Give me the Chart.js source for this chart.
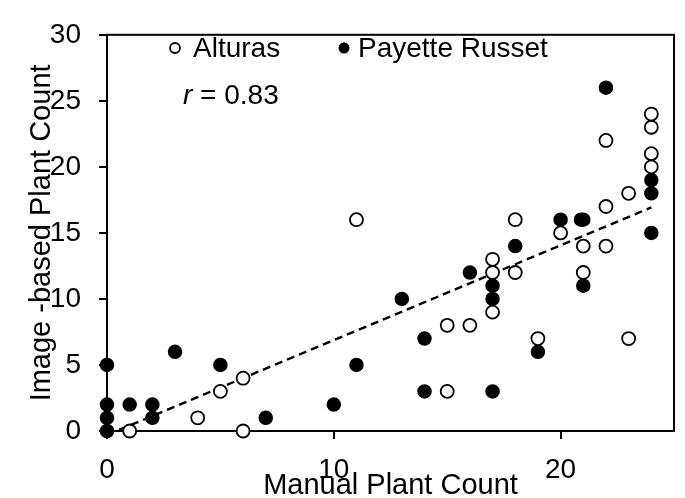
<!DOCTYPE html>
<html>
<head>
<meta charset="utf-8">
<script src="https://cdn.jsdelivr.net/npm/chart.js@4.4.0/dist/chart.umd.min.js"></script>
<style>
    html, body { margin: 0; padding: 0; background: #fff; }
</style>
</head>
<body>
<canvas id="plantChart" width="685" height="498"></canvas>
<script>
// values
const alturasX = [1, 4, 5, 6, 6, 11, 15, 16, 15, 17, 17, 17, 18, 18, 19, 20, 21, 21, 22, 22, 22, 23, 23, 24, 24, 24, 24];
const alturasY = [0, 1, 3, 4, 0, 16, 8, 8, 3, 13, 12, 9, 16, 12, 7, 15, 14, 12, 22, 17, 14, 18, 7, 24, 23, 21, 20];

const payetteX = [0, 0, 0, 0, 1, 2, 2, 3, 5, 7, 10, 11, 13, 14, 14, 16, 17, 17, 17, 18, 19, 20, 21, 20.9, 21, 22, 24, 24, 24];
const payetteY = [0, 1, 2, 5, 2, 2, 1, 6, 5, 1, 2, 5, 10, 7, 3, 12, 11, 10, 3, 14, 6, 16, 16, 16, 11, 26, 19, 18, 15];

const trendX = [0, 24];
const trendY = [-0.3, 16.93];

const xTicks = [0, 10, 20];
const legendNames = ['Alturas', 'Payette Russet'];
const rText = '0.83';

const FONT = "'Liberation Sans', Arial, sans-serif";

function toPoints(xs, ys) {
    return xs.map((x, i) => ({ x: x, y: ys[i] }));
}

// frame, axis titles and the in-plot legend
const decorations = {
    id: 'decorations',
    beforeDatasetsDraw(chart) {
        const ctx = chart.ctx;
        const a = chart.chartArea;
        ctx.save();
        ctx.strokeStyle = '#000';
        ctx.lineWidth = 2;
        ctx.strokeRect(a.left, a.top, a.right - a.left, a.bottom - a.top);
        ctx.restore();
    },
    afterDraw(chart) {
        const ctx = chart.ctx;
        const a = chart.chartArea;
        ctx.save();

        ctx.fillStyle = '#000';
        ctx.strokeStyle = '#000';
        ctx.font = '29px ' + FONT;
        ctx.textAlign = 'center';
        ctx.textBaseline = 'alphabetic';
        ctx.fillText('Manual Plant Count', (a.left + a.right) / 2, 494);

        ctx.save();
        ctx.translate(50, (a.top + a.bottom) / 2);
        ctx.rotate(-Math.PI / 2);
        ctx.fillText('Image -based Plant Count', 0, 0);
        ctx.restore();

        // legend
        ctx.font = '28px ' + FONT;
        ctx.textAlign = 'left';
        ctx.lineWidth = 1.8;
        ctx.beginPath();
        ctx.arc(175, 48, 5, 0, Math.PI * 2);
        ctx.fillStyle = '#fff';
        ctx.fill();
        ctx.stroke();
        ctx.fillStyle = '#000';
        ctx.fillText(legendNames[0], 193, 57);

        ctx.beginPath();
        ctx.arc(344, 48, 5.5, 0, Math.PI * 2);
        ctx.fill();
        ctx.fillText(legendNames[1], 358, 57);

        ctx.font = 'italic 28px ' + FONT;
        ctx.fillText('r', 183, 104);
        const rw = ctx.measureText('r').width;
        ctx.font = '28px ' + FONT;
        ctx.fillText(' = ' + rText, 183 + rw, 104);

        ctx.restore();
    }
};

const ctx = document.getElementById('plantChart').getContext('2d');

const plantChart = new Chart(ctx, {
    type: 'scatter',
    data: {
        datasets: [
            {
                label: legendNames[0],
                data: toPoints(alturasX, alturasY),
                pointRadius: 6.5,
                pointBorderWidth: 1.8,
                pointBorderColor: '#000',
                pointBackgroundColor: '#fff',
                clip: false,
                order: 1
            },
            {
                label: legendNames[1],
                data: toPoints(payetteX, payetteY),
                pointRadius: 6.5,
                pointBorderWidth: 1.5,
                pointBorderColor: '#000',
                pointBackgroundColor: '#000',
                clip: false,
                order: 2
            },
            {
                type: 'line',
                label: 'trend',
                data: toPoints(trendX, trendY),
                borderColor: '#000',
                borderWidth: 2.4,
                borderDash: [8, 5],
                pointRadius: 0,
                fill: false,
                order: 3
            }
        ]
    },
    options: {
        responsive: false,
        animation: false,
        devicePixelRatio: 1,
        layout: { padding: { left: 0, right: 11, top: 20, bottom: 0 } },
        plugins: {
            legend: { display: false },
            tooltip: { enabled: false }
        },
        scales: {
            x: {
                type: 'linear',
                min: 0,
                max: 25,
                afterBuildTicks: scale => { scale.ticks = xTicks.map(v => ({ value: v })); },
                afterFit: scale => { scale.height = 67; },
                grid: { drawOnChartArea: false, drawTicks: true, tickLength: 8, color: '#000', lineWidth: 2 },
                border: { color: '#000', width: 2 },
                ticks: { color: '#000', font: { family: FONT, size: 28 }, padding: 14, maxRotation: 0 }
            },
            y: {
                min: 0,
                max: 30,
                ticks: { stepSize: 5, color: '#000', font: { family: FONT, size: 28 }, padding: 18 },
                afterFit: scale => { scale.width = 107; },
                grid: { drawOnChartArea: false, drawTicks: true, tickLength: 8, color: '#000', lineWidth: 2 },
                border: { color: '#000', width: 2 }
            }
        }
    },
    plugins: [decorations]
});
</script>
</body>
</html>
